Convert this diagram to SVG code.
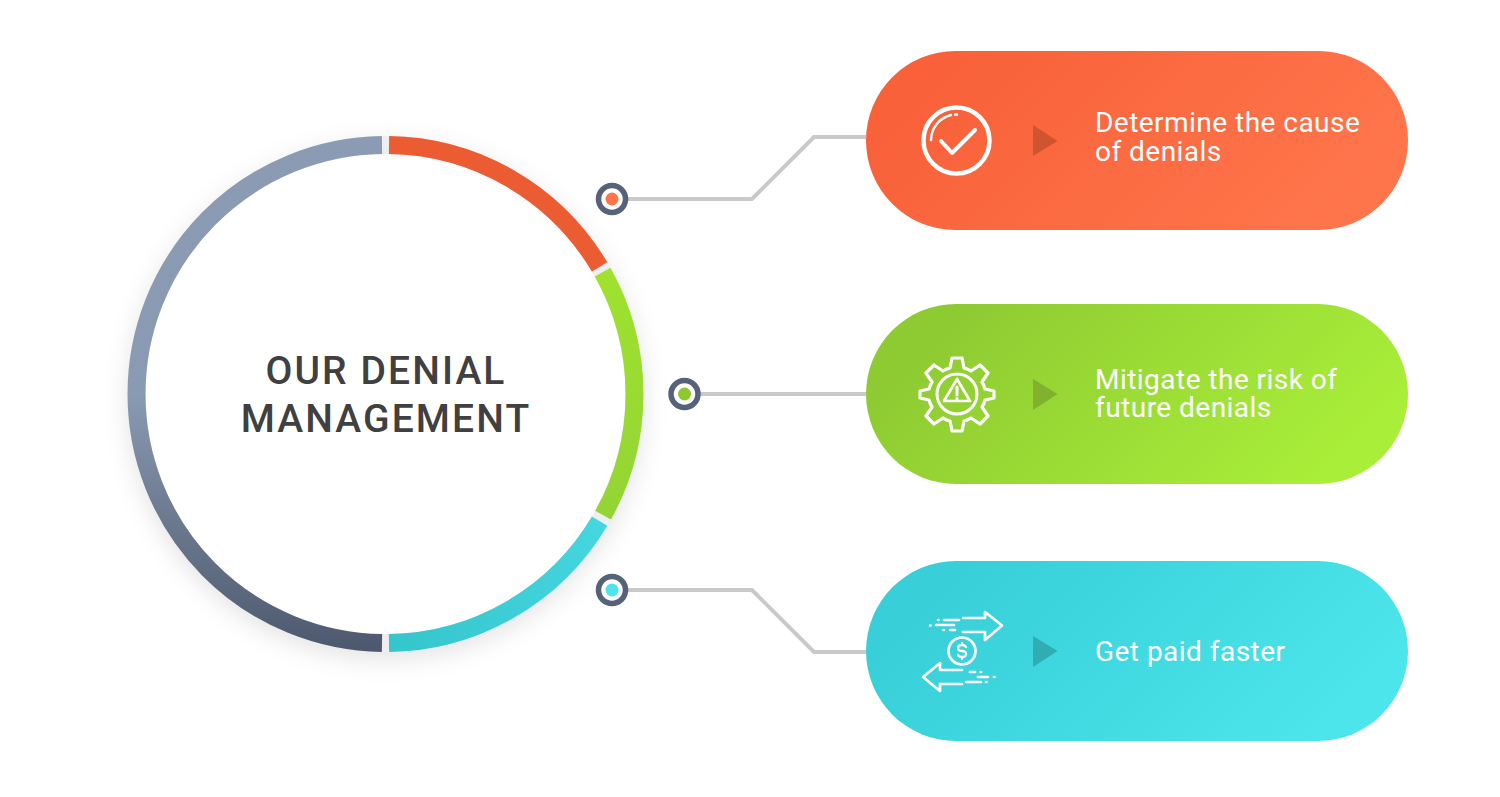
<svg xmlns="http://www.w3.org/2000/svg" width="1500" height="797" viewBox="0 0 1500 797">
<style>
.lbl{font-family:Roboto,"Liberation Sans",sans-serif;font-size:28px;fill:#fff;letter-spacing:.47px}
.ttl{font-family:Roboto,"Liberation Sans",sans-serif;font-size:39px;font-weight:500;fill:#404040;letter-spacing:2.1px;text-anchor:middle}
.ring{fill:none;stroke-width:18}
.wire{fill:none;stroke:#c9c9c9;stroke-width:4}
.dot{fill:#fff;stroke:#566279;stroke-width:5.5}
.ic{fill:none;stroke:#fff;stroke-width:3;stroke-linecap:round;stroke-linejoin:round}
.ic2{fill:none;stroke:#fff;stroke-width:2.7;stroke-linecap:round;stroke-linejoin:round}
.tri{fill-opacity:.9}
</style>
<defs>
<linearGradient id="gO" gradientUnits="userSpaceOnUse" x1="1010" y1="10" x2="1270" y2="270"><stop offset="0" stop-color="#f8613a"/><stop offset="1" stop-color="#ff754b"/></linearGradient>
<linearGradient id="gG" gradientUnits="userSpaceOnUse" x1="1010" y1="264" x2="1270" y2="524"><stop offset="0" stop-color="#8ecb32"/><stop offset="1" stop-color="#a9ee39"/></linearGradient>
<linearGradient id="gT" gradientUnits="userSpaceOnUse" x1="1010" y1="521" x2="1270" y2="781"><stop offset="0" stop-color="#38cfd8"/><stop offset="1" stop-color="#4be5eb"/></linearGradient>
<linearGradient id="rL" gradientUnits="userSpaceOnUse" x1="385" y1="136" x2="385" y2="652"><stop offset="0" stop-color="#8b9bb3"/><stop offset=".5" stop-color="#8a9ab2"/><stop offset="1" stop-color="#4c586d"/></linearGradient>
<linearGradient id="rG" gradientUnits="userSpaceOnUse" x1="600" y1="270" x2="640" y2="520"><stop offset="0" stop-color="#a0e22e"/><stop offset="1" stop-color="#93d435"/></linearGradient>
<linearGradient id="rT" gradientUnits="userSpaceOnUse" x1="600" y1="520" x2="390" y2="650"><stop offset="0" stop-color="#45d6e0"/><stop offset="1" stop-color="#35c5cc"/></linearGradient>
<filter id="sh" x="-20%" y="-20%" width="140%" height="140%"><feGaussianBlur stdDeviation="12"/></filter>
</defs>
<rect width="1500" height="797" fill="#fff"/>
<g id="connectors">
<path class="wire" d="M627 199H752L814 137H866"/>
<path class="wire" d="M700 394H866"/>
<path class="wire" d="M627 590H752L814 652H866"/>
</g>
<g id="hub">
<circle cx="385.5" cy="401" r="258" fill="#000" fill-opacity=".11" filter="url(#sh)"/>
<circle cx="385.5" cy="394" r="258" fill="#eeeeee"/>
<circle cx="385.5" cy="394" r="240" fill="#fff"/>
<path class="ring" stroke="#eb5c32" d="M389 145.025A249 249 0 0 1 599.600 266.900"/>
<path class="ring" stroke="url(#rG)" d="M602.600 272.200A249 249 0 0 1 603.100 515.100"/>
<path class="ring" stroke="url(#rT)" d="M599.600 521.100A249 249 0 0 1 389 642.975"/>
<path class="ring" stroke="url(#rL)" d="M382 642.975A249 249 0 0 1 382 145.025"/>
<text class="ttl" x="386" y="384">OUR DENIAL</text>
<text class="ttl" x="386" y="432">MANAGEMENT</text>
</g>
<g id="dot1"><circle class="dot" cx="612" cy="199" r="13.500"/><circle cx="612" cy="199" r="6.500" fill="#ff754b"/></g>
<g id="dot2"><circle class="dot" cx="684.500" cy="394" r="13.500"/><circle cx="684.500" cy="394" r="6.500" fill="#8cc82e"/></g>
<g id="dot3"><circle class="dot" cx="612" cy="590" r="13.500"/><circle cx="612" cy="590" r="6.500" fill="#4be5eb"/></g>
<g id="node1">
<rect x="866" y="51" width="542" height="179" rx="89.500" fill="url(#gO)"/>
<circle cx="956.500" cy="140.500" r="33" fill="none" stroke="#fff" stroke-width="4.500"/>
<path d="M931 140A26 26 0 0 1 951 115M955 114.500H957" fill="none" stroke="#fff" stroke-width="2.400" stroke-linecap="round"/>
<path class="ic" style="stroke-width:4" d="M941 141L952 153L975 130"/>
<path class="tri" fill="#c9532f" d="M1033 125L1057.500 141L1033 156Z"/>
<text class="lbl" x="1095" y="132">Determine the cause</text>
<text class="lbl" x="1095" y="161">of denials</text>
</g>
<g id="node2">
<rect x="866" y="304" width="542" height="180" rx="90" fill="url(#gG)"/>
<path class="ic2" style="stroke-width:3.200" d="M952 358H962L964 368Q968 369 971 371L980 365L988 373L982 382Q984 385 985 389L994 391V398L985 400Q984 404 982 407L988 416L980 424L971 418Q968 420 964 421L962 431H952L950 421Q946 420 943 418L934 424L926 416L932 407Q930 404 929 400L920 398V391L929 389Q930 385 932 382L926 373L934 365L943 371Q946 369 950 368Z"/>
<circle cx="957" cy="394" r="20" fill="none" stroke="#fff" stroke-width="3"/>
<path class="ic2" d="M957 379L970 401H944Z"/>
<path d="M957 387V395M957 398.500V399" fill="none" stroke="#fff" stroke-width="3" stroke-linecap="round"/>
<path class="tri" fill="#7fae2c" d="M1033 379L1057.500 394L1033 410Z"/>
<text class="lbl" x="1095" y="389">Mitigate the risk of</text>
<text class="lbl" x="1095" y="417">future denials</text>
</g>
<g id="node3">
<rect x="866" y="561" width="542" height="180" rx="90" fill="url(#gT)"/>
<path class="ic2" d="M963 618H985V612L1002 625.500L985 640V632H963"/>
<path class="ic2" d="M944 620H959M938 620H938.500M936 625H954M930 625.500H930.500M950 630H955M943.500 630H944"/>
<path class="ic2" d="M962 670H940V663L923 677L940 691V684H962"/>
<path class="ic2" d="M970 672H975M980.500 672H981M978 677H988M994 677H994.500M966 682H981M986 682H986.500"/>
<circle cx="962" cy="651" r="13.500" fill="none" stroke="#fff" stroke-width="2.700"/>
<path class="ic2" style="stroke-width:2.300" d="M966 647Q965 645 962 645Q958 645 958 648Q958 651 962 651Q966 651 966 654Q966 657 962 657Q959 657 958 655M962 643V645M962 657V659"/>
<path class="tri" fill="#2fa7ae" d="M1033 636L1057.500 651L1033 667Z"/>
<text class="lbl" x="1095" y="661">Get paid faster</text>
</g>
</svg>
